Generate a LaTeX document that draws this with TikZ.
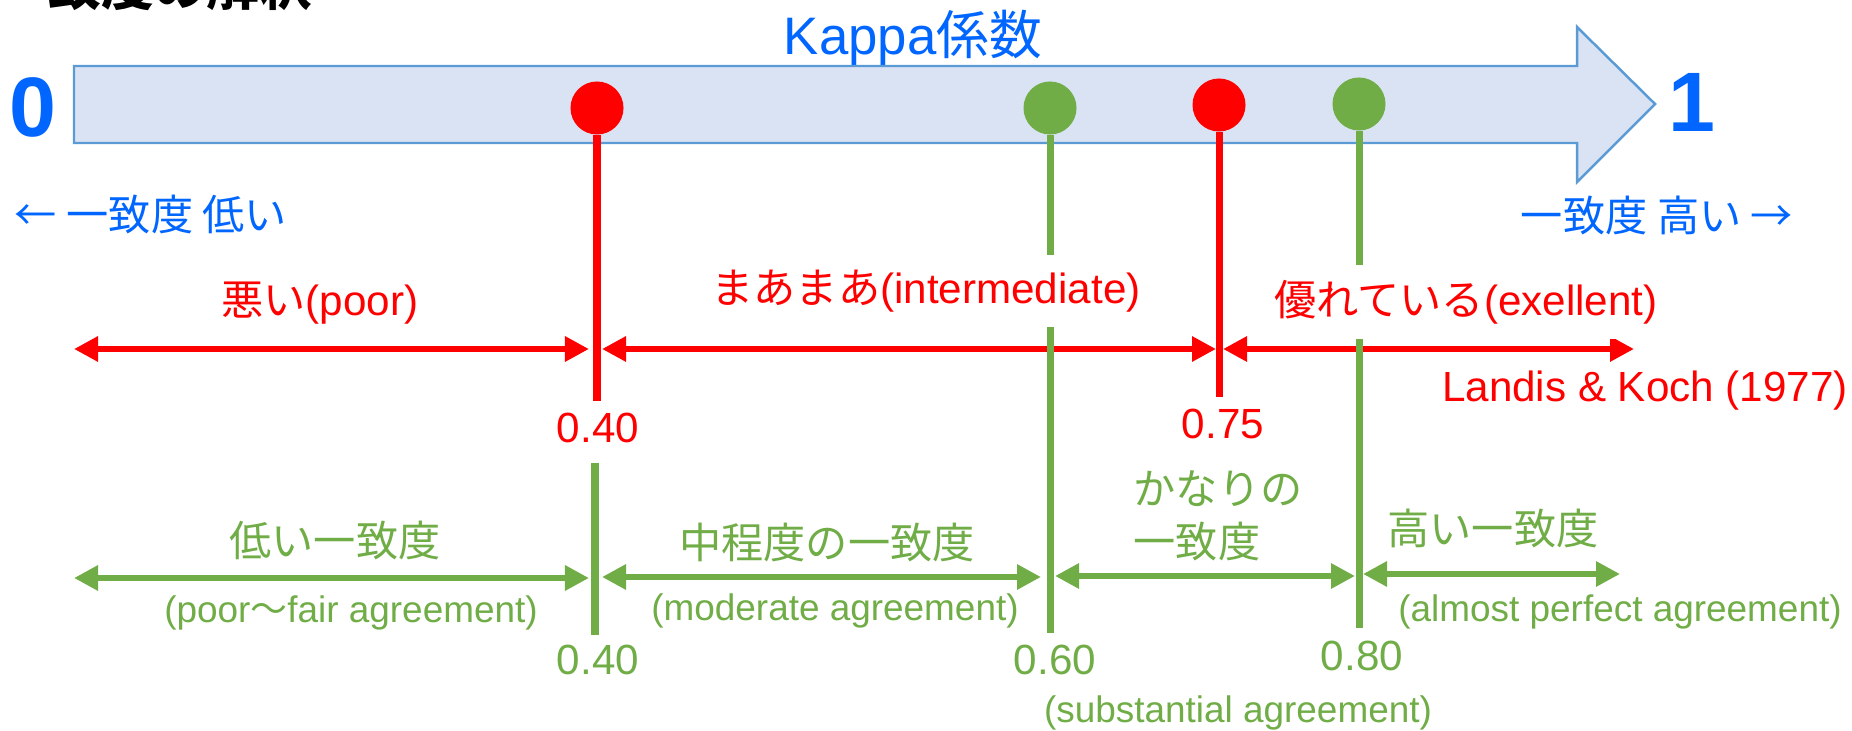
\documentclass[tikz,border=0pt]{standalone}
\usepackage{fontspec}
\setmainfont{Liberation Sans}
\newfontfamily\jp{Noto Sans CJK JP}
\usetikzlibrary{arrows.meta}
\definecolor{kblue}{HTML}{0066FF}
\definecolor{kfill}{HTML}{DAE3F3}
\definecolor{kedge}{HTML}{5B9BD5}
\definecolor{kred}{HTML}{FF0000}
\definecolor{kgreen}{HTML}{70AD47}

\begin{document}
\begin{tikzpicture}[x=0.01cm,y=-0.01cm,
	dot/.style={circle,inner sep=0pt,minimum size=0.53cm},
	stem/.style={line width=2pt},
	rng/.style={{Triangle[length=0.24cm,width=0.24cm]}-{Triangle[length=0.24cm,width=0.24cm]},line width=1.8pt},
	lbl/.style={inner sep=0pt,font=\fontsize{12}{15}\selectfont},
	sub/.style={inner sep=0pt,font=\fontsize{10.5}{12}\selectfont},
	big/.style={inner sep=0pt,font=\bfseries\fontsize{24}{28}\selectfont}]
		\useasboundingbox (0,0) rectangle (1852,731);
		
		% title, cut by the top edge
		\node[anchor=west,inner sep=0pt,font=\jp\bfseries\fontsize{15}{18}\selectfont] (T) at (-5,-14) {一致度の解釈};
		
		% axis
		\draw[kedge,fill=kfill,line width=0.7pt] (74,66) -- (1577,66) -- (1577,27) -- (1655,104)
			-- (1577,182) -- (1577,143) -- (74,143) -- cycle;
		\node[kblue,inner sep=0pt,font=\fontsize{15}{18}\selectfont] (K) at (913,38) {Kappa{\jp 係数}};
		\node[big,kblue] (Z) at (33,107) {0};
		\node[big,kblue] (O) at (1692,102) {1};
		\node[lbl,kblue] (L) at (151,215) {\jp ← 一致度 低い};
		\node[lbl,kblue] (H) at (1657,215) {\jp 一致度 高い →};
		
		% Landis & Koch
		\node[dot,fill=kred] (R1) at (597,108) {};
		\node[dot,fill=kred] (R2) at (1219,105) {};
		\coordinate (R1e) at (597,401);
		\coordinate (R2e) at (1219,397);
		\draw[stem,kred] (R1) -- (R1e);
		\draw[stem,kred] (R2) -- (R2e);
		\coordinate (A0) at (74,349);
		\coordinate (A1) at (589,349);
		\coordinate (A2) at (602,349);
		\coordinate (A3) at (1216,349);
		\coordinate (A4) at (1223,349);
		\coordinate (A5) at (1634,349);
		\draw[rng,kred] (A0) -- (A1);
		\draw[rng,kred] (A2) -- (A3);
		\draw[rng,kred] (A4) -- (A5);
		
		% the other scale
		\node[dot,fill=kgreen] (G1) at (1050,108) {};
		\node[dot,fill=kgreen] (G2) at (1359,104) {};
		\coordinate (G1e) at (1050,633);
		\coordinate (G2e) at (1359,628);
		\coordinate (G0s) at (595,463);
		\coordinate (G0e) at (595,635);
		\draw[stem,kgreen] (G1) -- (G1e);
		\draw[stem,kgreen] (G2) -- (G2e);
		\draw[stem,kgreen] (G0s) -- (G0e);
		\coordinate (B0) at (74,578);
		\coordinate (B1) at (589,578);
		\coordinate (B2) at (602,577);
		\coordinate (B3) at (1041,577);
		\coordinate (B4) at (1055,576);
		\coordinate (B5) at (1355,576);
		\coordinate (B6) at (1363,574);
		\coordinate (B7) at (1620,574);
		\draw[rng,kgreen] (B0) -- (B1);
		\draw[rng,kgreen] (B2) -- (B3);
		\draw[rng,kgreen] (B4) -- (B5);
		\draw[rng,kgreen] (B6) -- (B7);
		
		% red labels
		\node[lbl,kred] (P) at (320,303) {{\jp 悪い}(poor)};
		\node[lbl,kred,fill=white,inner ysep=0.145cm] (M) at (926,291) {{\jp まあまあ}(intermediate)};
		\node[lbl,kred,fill=white,inner ysep=0.15cm] (E) at (1466,302) {{\jp 優れている}(exellent)};
		\node[lbl,kred] (LK) at (1645,391) {Landis \& Koch (1977)};
		\node[lbl,kred] (V1) at (598,428) {0.40};
		\node[lbl,kred] (V2) at (1223,424) {0.75};
		
		% green labels
		\node[lbl,kgreen] (W1) at (335,541) {\jp 低い一致度};
		\node[sub,kgreen] (S1) at (351,613) {(poor{\jp 〜}fair agreement)};
		\node[lbl,kgreen] (W2) at (827,543) {\jp 中程度の一致度};
		\node[sub,kgreen] (S2) at (835,611) {(moderate agreement)};
		\node[lbl,kgreen,anchor=west,align=left] (W3) at (1133,516) {\jp かなりの\\\jp 一致度};
		\node[sub,kgreen] (S3) at (1238,713) {(substantial agreement)};
		\node[lbl,kgreen] (W4) at (1493,528) {\jp 高い一致度};
		\node[sub,kgreen] (S4) at (1620,612) {(almost perfect agreement)};
		\node[lbl,kgreen] (U1) at (598,660) {0.40};
		\node[lbl,kgreen] (U2) at (1055,660) {0.60};
		\node[lbl,kgreen] (U3) at (1362,656) {0.80};
\end{tikzpicture}
\end{document}
